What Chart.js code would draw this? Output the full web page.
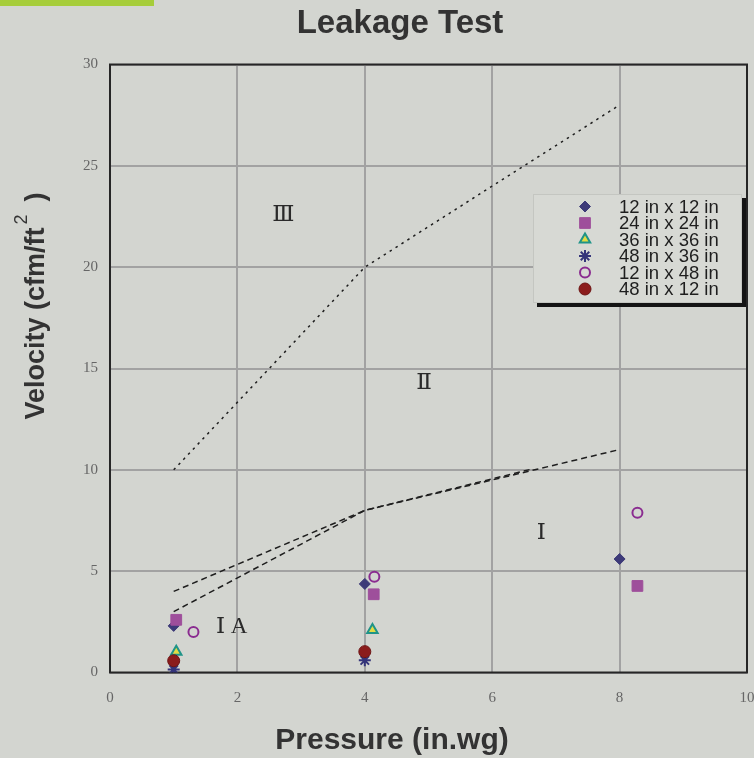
<!DOCTYPE html>
<html>
<head>
<meta charset="utf-8">
<script src="https://cdn.jsdelivr.net/npm/chart.js@4/dist/chart.umd.min.js"></script>
<style>
  html, body { margin: 0; padding: 0; background: #d3d5d0; overflow: hidden; }
  canvas { display: block; }
</style>
</head>
<body>
<canvas id="c" width="754" height="758"></canvas>
<script>
// series (x = pressure in.wg, y = velocity cfm/ft2)
const seriesNames = ['12 in x 12 in', '24 in x 24 in', '36 in x 36 in', '48 in x 36 in', '12 in x 48 in', '48 in x 12 in'];
const s12x12 = [{x: 1, y: 2.3}, {x: 4, y: 4.37}, {x: 8, y: 5.6}];
const s24x24 = [{x: 1.04, y: 2.6}, {x: 4.14, y: 3.86}, {x: 8.28, y: 4.27}];
const s36x36 = [{x: 1.04, y: 1.03}, {x: 4.12, y: 2.1}];
const s48x36 = [{x: 1, y: 0.15}, {x: 4, y: 0.6}];
const s12x48 = [{x: 1.31, y: 2.0}, {x: 4.15, y: 4.73}, {x: 8.28, y: 7.88}];
const s48x12 = [{x: 1, y: 0.58}, {x: 4, y: 1.03}];

// region boundaries (dashed)
const boundIIIII = [{x: 1, y: 10}, {x: 4, y: 20}, {x: 8, y: 28}];
const boundIII = [{x: 1, y: 4}, {x: 4, y: 8}, {x: 8, y: 11}];
const boundIIA = [{x: 1, y: 3}, {x: 4, y: 8}, {x: 6.6, y: 10.02}];

// region labels
const regionLabels = [
  {text: 'Ⅲ', x: 2.72, y: 22.6},
  {text: 'Ⅱ', x: 4.93, y: 14.3},
  {text: 'Ⅰ', x: 6.77, y: 6.9},
  {text: 'Ⅰ A', x: 1.91, y: 2.26}
];

const xTicks = [0, 2, 4, 6, 8, 10];
const yTicks = [0, 5, 10, 15, 20, 25, 30];

const markers = [
  {pointStyle: 'rectRot', radius: 5.5, fill: '#3d3a78', stroke: '#3d3a78', bw: 1},
  {pointStyle: 'rect', radius: 7.6, fill: '#9e4f9b', stroke: '#9e4f9b', bw: 1},
  {pointStyle: 'triangle', radius: 6, fill: '#e2dc45', stroke: '#1f9488', bw: 2},
  {pointStyle: 'star', radius: 6, fill: 'rgba(0,0,0,0)', stroke: '#34347a', bw: 2},
  {pointStyle: 'circle', radius: 5, fill: 'rgba(0,0,0,0)', stroke: '#8a2c90', bw: 2},
  {pointStyle: 'circle', radius: 6, fill: '#8b1c1c', stroke: '#6e1414', bw: 1}
];
const seriesData = [s12x12, s24x24, s36x36, s48x36, s12x48, s48x12];

const datasets = seriesData.map((d, i) => ({
  label: seriesNames[i],
  data: d,
  pointStyle: markers[i].pointStyle,
  pointRadius: markers[i].radius,
  pointBackgroundColor: markers[i].fill,
  pointBorderColor: markers[i].stroke,
  pointBorderWidth: markers[i].bw,
  showLine: false,
  order: 6 - i
}));

[[boundIIIII, [2.5, 4.5]], [boundIII, [6, 4]], [boundIIA, [6, 4]]].forEach(([d, dash]) => {
  datasets.push({
    label: '',
    data: d,
    showLine: true,
    borderColor: '#1e1e1e',
    borderWidth: 1.5,
    borderDash: dash,
    pointRadius: 0,
    order: 10
  });
});

const SANS = '"Liberation Sans", Arial, sans-serif';
const noPad = () => ({left: 0, top: 0, right: 0, bottom: 0});

const bgPlugin = {
  id: 'bg',
  beforeDraw(chart) {
    const {ctx} = chart;
    ctx.save();
    ctx.fillStyle = '#d3d5d0';
    ctx.fillRect(0, 0, chart.width, chart.height);
    ctx.fillStyle = '#a6cd3a';
    ctx.fillRect(0, 0, 154, 6);
    ctx.restore();
  }
};

const framePlugin = {
  id: 'frame',
  beforeDatasetsDraw(chart) {
    const {ctx, chartArea: a} = chart;
    ctx.save();
    ctx.strokeStyle = '#262626';
    ctx.lineWidth = 2;
    ctx.strokeRect(a.left, a.top, a.right - a.left, a.bottom - a.top);
    ctx.restore();
  }
};

const extrasPlugin = {
  id: 'extras',
  afterDraw(chart) {
    const {ctx} = chart;
    const xs = chart.scales.x, ys = chart.scales.y;
    ctx.save();
    // titles
    ctx.fillStyle = '#333333';
    ctx.textAlign = 'center';
    ctx.textBaseline = 'middle';
    ctx.font = 'bold 33px ' + SANS;
    ctx.fillText('Leakage Test', 400, 24);
    ctx.font = 'bold 30px ' + SANS;
    ctx.fillText('Pressure (in.wg)', 392, 741);

    // region labels
    ctx.fillStyle = '#2a2a2a';
    ctx.font = '23px "Liberation Serif", "DejaVu Serif", serif';
    regionLabels.forEach(r => ctx.fillText(r.text, xs.getPixelForValue(r.x), ys.getPixelForValue(r.y)));

    // y axis title with superscript
    ctx.save();
    ctx.translate(37, 306);
    ctx.rotate(-Math.PI / 2);
    ctx.fillStyle = '#333333';
    ctx.textAlign = 'left';
    const main = 'Velocity (cfm/ft';
    ctx.font = 'bold 27px ' + SANS;
    const w1 = ctx.measureText(main).width;
    const w3 = ctx.measureText(')').width;
    const gap2 = 26;
    let x0 = -(w1 + gap2 + w3) / 2;
    ctx.fillText(main, x0, 0);
    ctx.fillText(')', x0 + w1 + gap2, 0);
    ctx.font = '18px ' + SANS;
    ctx.fillText('2', x0 + w1 + 3, -15);
    ctx.restore();

    // legend box with shadow
    const bx = 533, by = 194, bw = 209, bh = 109;
    ctx.fillStyle = '#141414';
    ctx.fillRect(bx + 4, by + 4, bw, bh);
    ctx.fillStyle = '#d7d9d4';
    ctx.fillRect(bx, by, bw, bh);
    ctx.strokeStyle = '#c4c6c1';
    ctx.lineWidth = 1;
    ctx.strokeRect(bx + 0.5, by + 0.5, bw - 1, bh - 1);
    ctx.font = '18.5px ' + SANS;
    ctx.textAlign = 'left';
    ctx.textBaseline = 'middle';
    seriesNames.forEach((name, i) => {
      const yy = 206.5 + i * 16.5;
      const m = markers[i];
      ctx.fillStyle = m.fill;
      ctx.strokeStyle = m.stroke;
      ctx.lineWidth = m.bw;
      if (Chart.helpers && Chart.helpers.drawPoint) {
        Chart.helpers.drawPoint(ctx, {pointStyle: m.pointStyle, radius: m.radius, borderWidth: m.bw, rotation: 0}, 585, yy);
      }
      ctx.fillStyle = '#1e1e1e';
      ctx.fillText(name, 619, yy + 1);
    });
    ctx.restore();
  }
};

new Chart(document.getElementById('c'), {
  type: 'scatter',
  data: {datasets},
  options: {
    responsive: false,
    animation: false,
    layout: {autoPadding: false, padding: {left: 0, right: 7, top: 64.5, bottom: 0}},
    plugins: {
      legend: {display: false},
      tooltip: {enabled: false},
      title: {display: false}
    },
    scales: {
      x: {
        type: 'linear',
        min: 0, max: 10,
        afterBuildTicks: s => { s.ticks = xTicks.map(v => ({value: v})); },
        afterFit: s => { s.height = 85.5; s.paddingLeft = 0; s.paddingRight = 0; s.getPadding = noPad; },
        grid: {color: '#a2a2a2', lineWidth: 2, drawTicks: false},
        border: {display: false},
        ticks: {
          padding: 17,
          color: '#666666',
          font: {size: 15, family: '"Liberation Serif", "DejaVu Serif", serif'}
        }
      },
      y: {
        type: 'linear',
        min: 0, max: 30,
        afterBuildTicks: s => { s.ticks = yTicks.map(v => ({value: v})); },
        afterFit: s => { s.width = 110; s.paddingTop = 0; s.paddingBottom = 0; s.getPadding = noPad; },
        grid: {color: '#a2a2a2', lineWidth: 2, drawTicks: false},
        border: {display: false},
        ticks: {
          padding: 12,
          color: '#666666',
          font: {size: 15, family: '"Liberation Serif", "DejaVu Serif", serif'}
        }
      }
    }
  },
  plugins: [bgPlugin, framePlugin, extrasPlugin]
});
</script>
</body>
</html>
